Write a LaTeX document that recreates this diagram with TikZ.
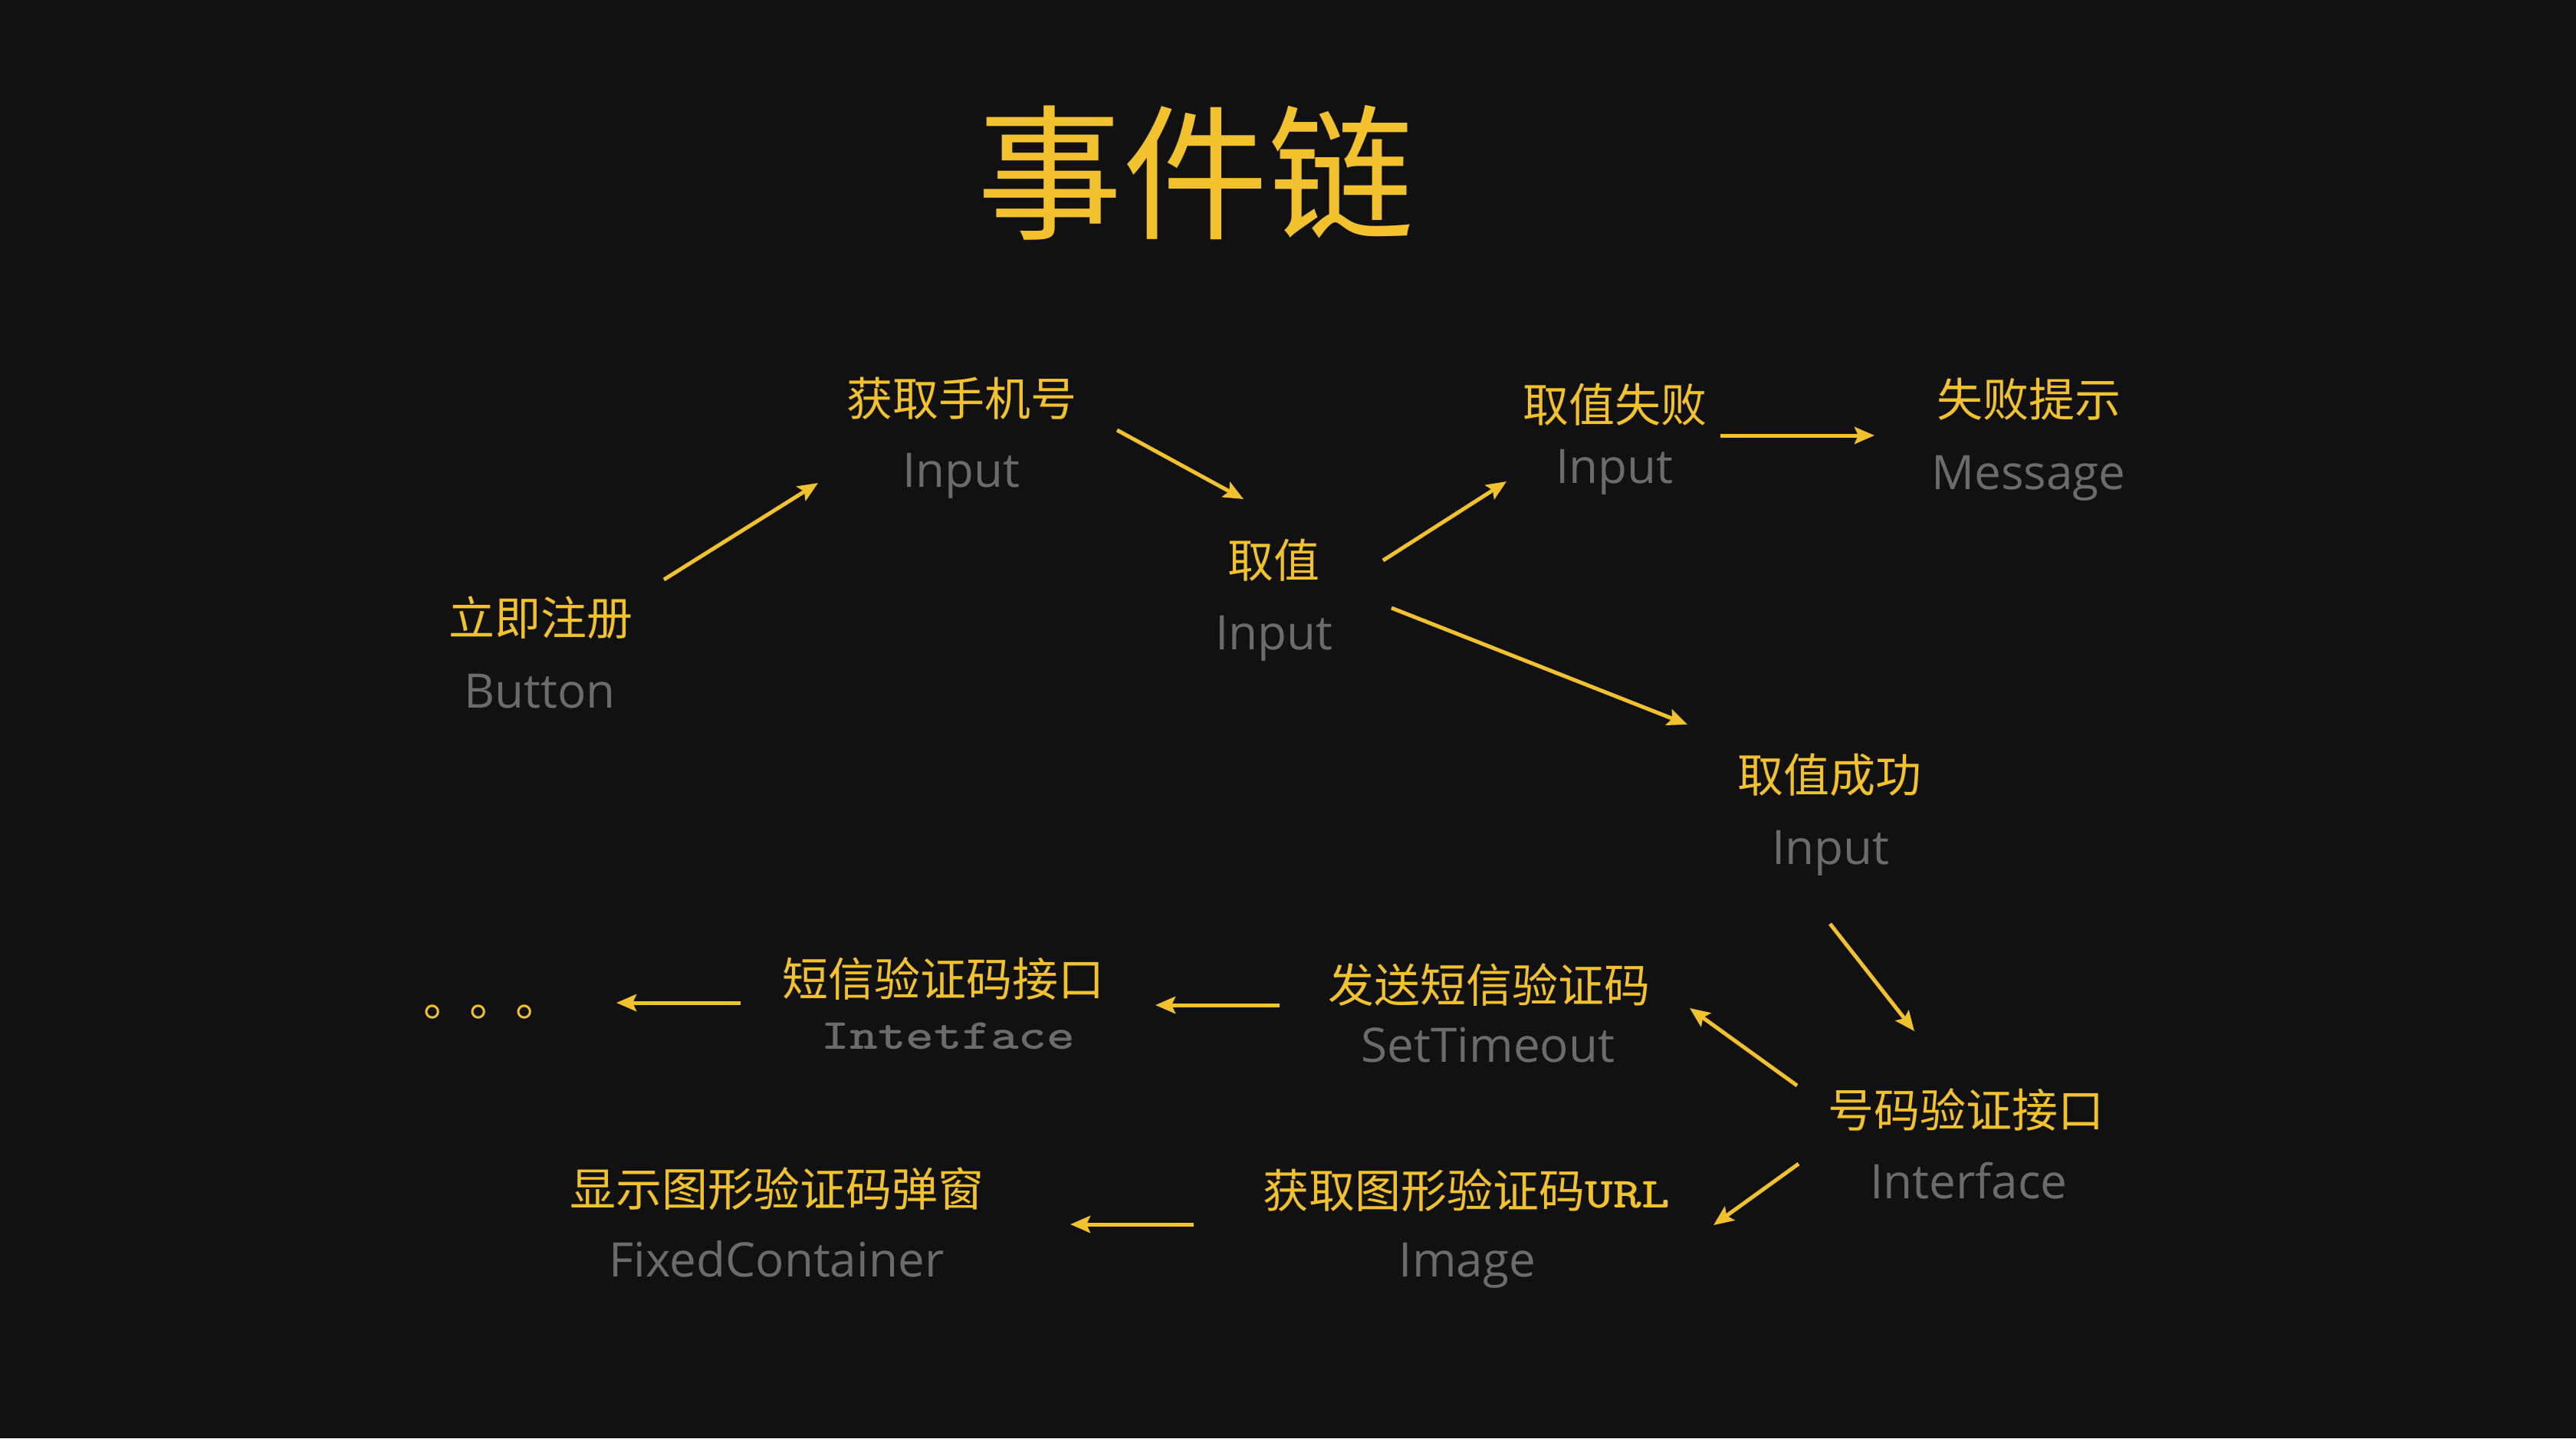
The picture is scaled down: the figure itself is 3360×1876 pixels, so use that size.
\documentclass[tikz,border=0pt]{standalone}
\usepackage{fontspec}
\usetikzlibrary{arrows.meta}
\newfontfamily\cjk{Noto Sans CJK SC}
\newfontfamily\latn{Open Sans}
\newfontfamily\monof{lmmonolt10-bold.otf}[FakeStretch=1.25]
\definecolor{bgc}{HTML}{111111}
\definecolor{gold}{HTML}{F2C12E}
\definecolor{greytxt}{HTML}{6B6B6B}
\begin{document}
\begin{tikzpicture}[x=0.25pt,y=-0.25pt,
  zh/.style={inner sep=0pt,outer sep=0pt,text=gold,font=\cjk\fontsize{15pt}{18pt}\selectfont},
  en/.style={inner sep=0pt,outer sep=0pt,anchor=base,text=greytxt,font=\latn\fontsize{15.5pt}{18pt}\selectfont},
  mono/.style={en,font=\monof\fontsize{14pt}{18pt}\selectfont},
  arr/.style={draw=gold,line width=1.25pt,-{Stealth[length=6.5pt,width=5.5pt,inset=1.2pt]}}]
\fill[bgc] (0,0) rectangle (3360,1876);
\useasboundingbox (0,0) rectangle (3360,1876);
% title
\node[zh,font=\cjk\fontsize{47.5pt}{50pt}\selectfont] (title) at (1559,225) {事件链};
% nodes
\node[zh] (reg) at (705,806) {立即注册};
\node[en] (rege) at (704,923) {Button};
\node[zh] (phone) at (1254,520) {获取手机号};
\node[en] (phonee) at (1254,635) {Input};
\node[zh] (val) at (1661,731) {取值};
\node[en] (vale) at (1662,847) {Input};
\node[zh] (fail) at (2106,528) {取值失败};
\node[en] (faile) at (2106,630) {Input};
\node[zh] (msg) at (2646,521) {失败提示};
\node[en] (msge) at (2646,638) {Message};
\node[zh] (ok) at (2386,1011) {取值成功};
\node[en] (oke) at (2388,1127) {Input};
\node[zh] (iface) at (2564,1448) {号码验证接口};
\node[en] (ifacee) at (2568,1563) {Interface};
\node[zh] (sms) at (1942,1285) {发送短信验证码};
\node[en] (smse) at (1941,1385) {SetTimeout};
\node[zh] (smsapi) at (1230,1277) {短信验证码接口};
\node[mono] (smsapie) at (1237,1368) {Intetface};
\node[zh,anchor=base west] (dots) at (552,1325) {。。。};
\node[zh] (img) at (1913,1553) {获取图形验证码{\monof\fontsize{14pt}{18pt}\selectfont URL}};
\node[en] (imge) at (1914,1665) {Image};
\node[zh] (popup) at (1013,1551) {显示图形验证码弹窗};
\node[en] (popupe) at (1013,1665) {FixedContainer};
% connector end points
\coordinate (a1s) at (866,756);   \coordinate (a1e) at (1067,630);
\coordinate (a2s) at (1457,561);  \coordinate (a2e) at (1622,651);
\coordinate (a3s) at (1804,731);  \coordinate (a3e) at (1965,628);
\coordinate (a4s) at (2244,568);  \coordinate (a4e) at (2445,568);
\coordinate (a5s) at (1815,793);  \coordinate (a5e) at (2201,945);
\coordinate (a6s) at (2387,1205); \coordinate (a6e) at (2497,1345);
\coordinate (a7s) at (2344,1416); \coordinate (a7e) at (2204,1315);
\coordinate (a8s) at (2346,1518); \coordinate (a8e) at (2235,1598);
\coordinate (a9s) at (1669,1311); \coordinate (a9e) at (1507,1311);
\coordinate (a10s) at (966,1308); \coordinate (a10e) at (804,1308);
\coordinate (a11s) at (1557,1597);\coordinate (a11e) at (1396,1597);
\draw[arr] (a1s) -- (a1e);
\draw[arr] (a2s) -- (a2e);
\draw[arr] (a3s) -- (a3e);
\draw[arr] (a4s) -- (a4e);
\draw[arr] (a5s) -- (a5e);
\draw[arr] (a6s) -- (a6e);
\draw[arr] (a7s) -- (a7e);
\draw[arr] (a8s) -- (a8e);
\draw[arr] (a9s) -- (a9e);
\draw[arr] (a10s) -- (a10e);
\draw[arr] (a11s) -- (a11e);
\end{tikzpicture}
\end{document}
